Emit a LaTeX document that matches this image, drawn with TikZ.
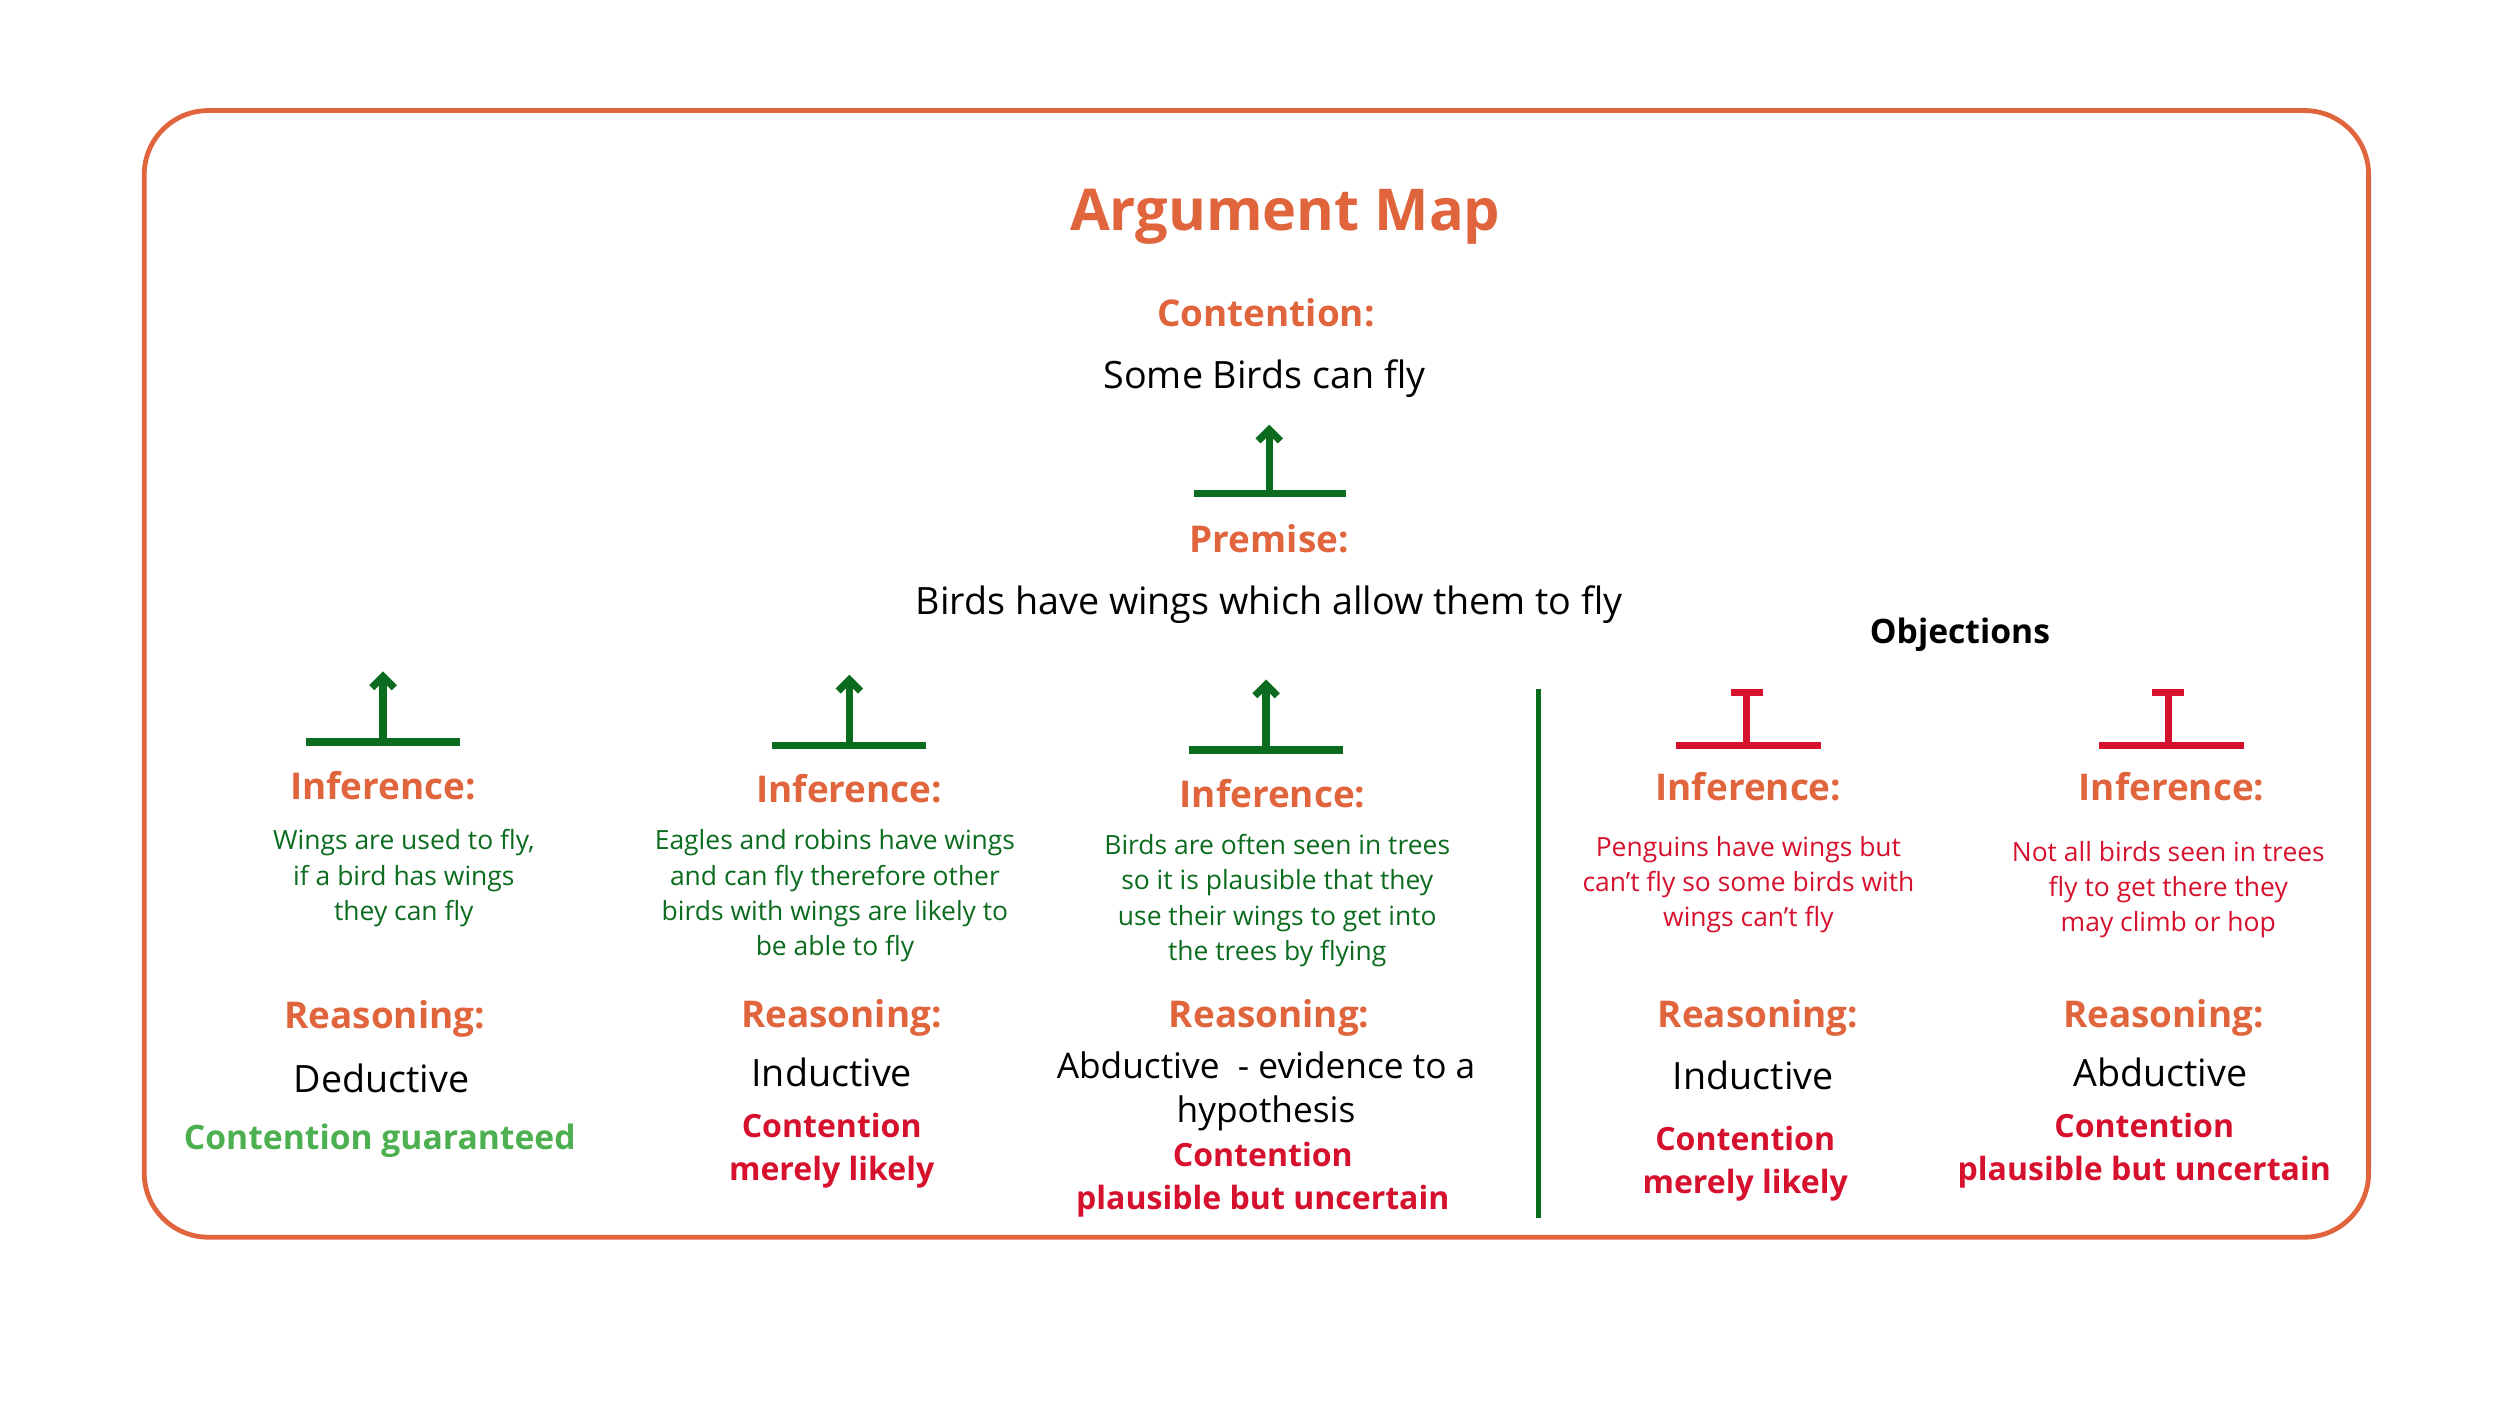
\documentclass[tikz,border=0pt]{standalone}
\usepackage{fontspec}
\usetikzlibrary{arrows.meta}
\setmainfont{Open Sans}
\definecolor{org}{HTML}{E0643C}
\definecolor{dg}{HTML}{0B6B1E}
\definecolor{lg}{HTML}{4CAF50}
\definecolor{rd}{HTML}{D6112E}
\begin{document}
\begin{tikzpicture}[x=1pt,y=-1pt,
  title/.style={font=\fontsize{36}{40}\selectfont\bfseries,text=org},
  head/.style={font=\fontsize{23}{26}\selectfont\bfseries,text=org},
  body/.style={font=\fontsize{23.5}{27}\selectfont,align=center},
  small/.style={font=\fontsize{16.5}{22}\selectfont,align=center},
  conc/.style={font=\fontsize{20}{27}\selectfont\bfseries,align=center,text=rd},
  sup/.style={draw=dg,line width=4.5pt,-{Straight Barb[length=7pt,width=14pt]}},
  supb/.style={draw=dg,line width=4.5pt},
  obj/.style={draw=rd,line width=4.5pt}]
\useasboundingbox (0,0) rectangle (1560,877);
\draw[org,line width=3pt,rounded corners=40pt] (90,69) rectangle (1478,772);
\node[title] (t) at (802,135) {Argument Map};
\node[head] (ch) at (790,195) {Contention:};
\node[body] (c) at (789,236) {Some Birds can fly};
\coordinate (b0) at (792,308);
\draw[supb] (745,308) -- (840,308);
\draw[sup] (b0) -- (792,265);
\node[head] (ph) at (792,336) {Premise:};
\node[body] (p) at (792,377) {Birds have wings which allow them to fly};
\node[font=\fontsize{21}{24}\selectfont\bfseries] (ob) at (1223,396) {Objections};
% col1
\draw[supb] (191,463) -- (287,463);
\draw[sup] (239,463) -- (239,419);
\node[head] (i1) at (239,490) {Inference:};
\node[small,text=dg] (s1) at (252,548) {Wings are used to fly,\\if a bird has wings\\they can fly};
\node[head] (r1) at (240,636) {Reasoning:};
\node[body] (d1) at (238,673) {Deductive};
\node[conc,text=lg,font=\fontsize{21}{27}\selectfont\bfseries] (k1) at (237,712) {Contention guaranteed};
% col2
\draw[supb] (482,465) -- (578,465);
\draw[sup] (530,465) -- (530,421);
\node[head] (i2) at (530,492) {Inference:};
\node[small,text=dg] (s2) at (521,559) {Eagles and robins have wings\\and can fly therefore other\\birds with wings are likely to\\be able to fly};
\node[head] (r2) at (525,635) {Reasoning:};
\node[body] (d2) at (519,669) {Inductive};
\node[conc] (k2) at (519,718) {Contention\\merely likely};
% col3
\draw[supb] (742,468) -- (838,468);
\draw[sup] (790,468) -- (790,424);
\node[head] (i3) at (794,495) {Inference:};
\node[small,text=dg] (s3) at (797,562) {Birds are often seen in trees\\so it is plausible that they\\use their wings to get into\\the trees by flying};
\node[head] (r3) at (792,635) {Reasoning:};
\node[body,font=\fontsize{22}{27}\selectfont] (d3) at (790,681) {Abductive\ \ - evidence to a\\hypothesis};
\node[conc] (k3) at (788,736) {Contention\\plausible but uncertain};
% divider
\draw[dg,line width=3pt] (960,430) -- (960,760);
% col4
\draw[obj] (1046,465) -- (1136,465);
\draw[obj] (1090,465) -- (1090,431);
\draw[obj] (1080,432) -- (1100,432);
\node[head] (i4) at (1091,491) {Inference:};
\node[small,text=rd] (s4) at (1091,552) {Penguins have wings but\\can’t fly so some birds with\\wings can’t fly};
\node[head] (r4) at (1097,635) {Reasoning:};
\node[body] (d4) at (1094,671) {Inductive};
\node[conc] (k4) at (1089,726) {Contention\\merely likely};
% col5
\draw[obj] (1310,465) -- (1400,465);
\draw[obj] (1353,465) -- (1353,431);
\draw[obj] (1343,432) -- (1363,432);
\node[head] (i5) at (1355,491) {Inference:};
\node[small,text=rd] (s5) at (1353,555) {Not all birds seen in trees\\fly to get there they\\may climb or hop};
\node[head] (r5) at (1350,635) {Reasoning:};
\node[body] (d5) at (1348,669) {Abductive};
\node[conc] (k5) at (1338,718) {Contention\\plausible but uncertain};
\end{tikzpicture}
\end{document}
